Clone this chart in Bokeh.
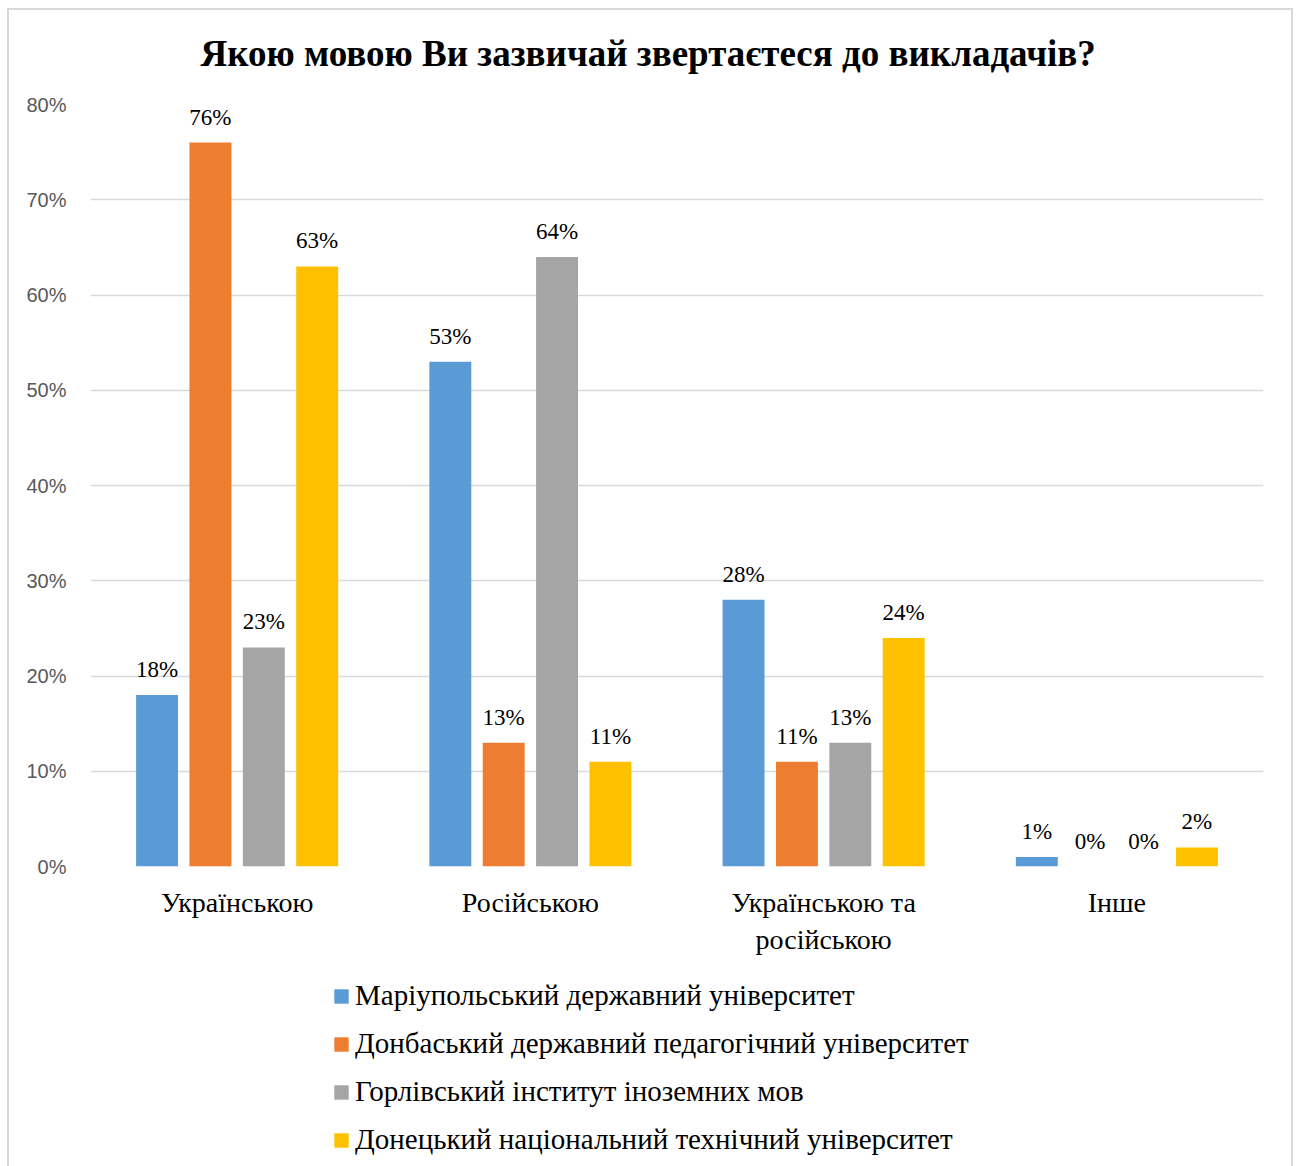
from bokeh.plotting import figure
from bokeh.models import (FactorRange, Range1d, NumeralTickFormatter, Legend, LegendItem,
                          ColumnDataSource, FixedTicker)
from bokeh.layouts import column
from bokeh.transform import dodge
from bokeh.core.properties import value
from bokeh.embed import file_html
from bokeh.resources import INLINE

title_text = "Якою мовою Ви зазвичай звертаєтеся до викладачів?"
categories = ["Українською", "Російською", "Українською та\nросійською", "Інше"]
series_names = [
    "Маріупольський державний університет",
    "Донбаський державний педагогічний університет",
    "Горлівський інститут іноземних мов",
    "Донецький національний технічний університет",
]
mariupol = [0.18, 0.53, 0.28, 0.01]
donbas = [0.76, 0.13, 0.11, 0.00]
horlivka = [0.23, 0.64, 0.13, 0.00]
donetsk = [0.63, 0.11, 0.24, 0.02]
series_values = [mariupol, donbas, horlivka, donetsk]
colors = ["#5B9BD5", "#ED7D31", "#A5A5A5", "#FFC000"]
y_ticks = [0, 0.1, 0.2, 0.3, 0.4, 0.5, 0.6, 0.7, 0.8]

SERIF = "Liberation Serif"
SANS = "Liberation Sans"

W = 1298
H1 = 960          # chart part
H2 = 1166 - H1    # legend part
FL, FT, FW, FH = 90, 104, 1173, 762

p = figure(x_range=FactorRange(*categories, range_padding=0),
           y_range=Range1d(0, 0.8),
           width=W, height=H1, output_backend="svg", toolbar_location=None,
           min_border_left=FL, min_border_right=W - FL - FW,
           min_border_top=FT, min_border_bottom=H1 - FT - FH)
p.outline_line_color = None
p.background_fill_color = None
p.border_fill_color = None

p.title.text = title_text
p.title.align = "left"
p.title.offset = 110
p.title.standoff = 61
p.title.text_font = SERIF
p.title.text_font_style = "bold"
p.title.text_font_size = "37px"
p.title.text_color = "#000000"

p.xgrid.grid_line_color = None
p.ygrid.grid_line_color = "#d9d9d9"
p.ygrid.grid_line_width = 1.5
p.ygrid.ticker = FixedTicker(ticks=y_ticks)

p.yaxis.ticker = FixedTicker(ticks=y_ticks)
p.yaxis.formatter = NumeralTickFormatter(format="0%")
p.yaxis.axis_line_color = None
p.yaxis.major_tick_line_color = None
p.yaxis.minor_tick_line_color = None
p.yaxis.major_label_text_font = SANS
p.yaxis.major_label_text_font_size = "20px"
p.yaxis.major_label_text_color = "#595959"
p.yaxis.major_label_standoff = 18

p.xaxis.axis_line_color = None
p.xaxis.major_tick_line_color = None
p.xaxis.minor_tick_line_color = None
p.xaxis.major_label_text_font = SERIF
p.xaxis.major_label_text_font_size = "28px"
p.xaxis.major_label_text_color = "#000000"
p.xaxis.major_label_standoff = 14

offsets = [-0.273, -0.091, 0.091, 0.273]
bar_w = 0.143
for name, vals, col, off in zip(series_names, series_values, colors, offsets):
    src = ColumnDataSource(dict(cat=categories, val=vals,
                                lab=["%d%%" % round(v * 100) for v in vals]))
    p.vbar(x=dodge("cat", off, range=p.x_range), top="val", width=bar_w,
           source=src, fill_color=col, line_color=None)
    p.text(x=dodge("cat", off, range=p.x_range), y="val", text="lab", source=src,
           text_align="center", text_baseline="bottom", y_offset=-13,
           text_font=value(SERIF), text_font_size="23px", text_color="#000000")

# legend part
q = figure(x_range=Range1d(0, W), y_range=Range1d(0, H2),
           width=W, height=H2, output_backend="svg", toolbar_location=None,
           x_axis_location=None, y_axis_location=None,
           min_border=0, min_border_left=0, min_border_right=0,
           min_border_top=0, min_border_bottom=0)
q.outline_line_color = None
q.background_fill_color = None
q.border_fill_color = None
q.xgrid.grid_line_color = None
q.ygrid.grid_line_color = None
items = []
for name, col in zip(series_names, colors):
    # legend key only: a zero-height bar placed outside the visible range
    r = q.vbar(x=[-5000], top=[0], width=1, fill_color=col, line_color=None)
    items.append(LegendItem(label=name, renderers=[r]))

legend = Legend(items=items, location=(242, 10), orientation="vertical",
                border_line_color=None, background_fill_alpha=0,
                label_text_font=SERIF, label_text_font_size="29px",
                label_text_color="#000000",
                glyph_width=18, glyph_height=18, label_standoff=5,
                spacing=15, padding=0, margin=0)
q.add_layout(legend, "center")

line = "linear-gradient(#d9d9d9,#d9d9d9)"
layout = column(p, q, spacing=0)
layout.styles = {
    "background": (f"{line} 7px 8px / 2px 100% no-repeat, "
                   f"{line} 7px 8px / 1286px 2px no-repeat, "
                   f"{line} 1291px 8px / 2px 100% no-repeat, #ffffff")
}

open("out.html", "w").write(file_html(layout, INLINE))
